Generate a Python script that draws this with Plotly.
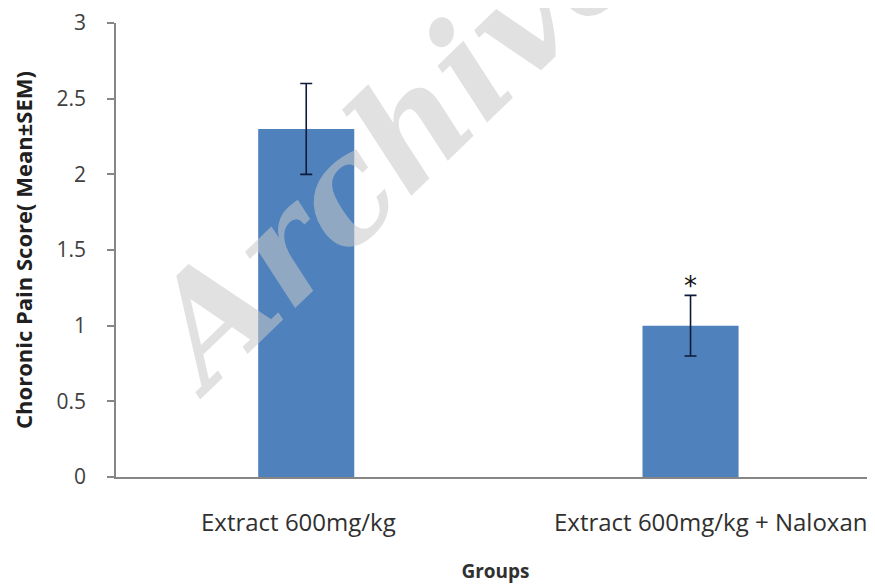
import plotly.graph_objects as go

categories = ["Extract 600mg/kg", "Extract 600mg/kg + Naloxan"]
means = [2.3, 1.0]
sem = [0.3, 0.2]
y_ticks = [0, 0.5, 1, 1.5, 2, 2.5, 3]
y_tick_labels = ["0", "0.5", "1", "1.5", "2", "2.5", "3"]
significance = ["", "*"]

fig = go.Figure()
fig.add_trace(go.Bar(
    x=categories, y=means, width=0.25,
    marker=dict(color="#4f81bd", line=dict(width=0)),
    error_y=dict(type="data", array=sem, visible=True, color="#0d1a3a",
                 thickness=1.6, width=6),
    showlegend=False,
))

for c, m, s, t in zip(categories, means, sem, significance):
    if t:
        fig.add_annotation(x=c, y=m + s, text=t, showarrow=False,
                           yanchor="bottom", yshift=-8,
                           font=dict(family="DejaVu Sans", size=26, color="#111111"))

# category labels (Excel-like placement)
label_shift = [-8, 20]
for c, dx in zip(categories, label_shift):
    fig.add_annotation(x=c, y=0, text=c, showarrow=False, xanchor="center",
                       yanchor="middle", yshift=-44, xshift=dx,
                       font=dict(family="Open Sans", size=24, color="#303030"))

# watermark
fig.add_annotation(xref="paper", yref="paper", x=0.36, y=0.73,
                   text="<b><i>Archive</i></b>", showarrow=False, textangle=-44,
                   xanchor="center", yanchor="middle",
                   font=dict(family="DejaVu Serif", size=145,
                             color="rgba(200,200,200,0.55)"))

fig.update_layout(
    width=867, height=577,
    margin=dict(l=108, r=0, t=12, b=108),
    paper_bgcolor="white", plot_bgcolor="white",
    font=dict(family="Open Sans", color="#404040"),
    xaxis=dict(
        type="category", range=[-0.495, 1.48],
        showline=True, linecolor="#868686", linewidth=1.5,
        ticks="", showgrid=False, zeroline=False,
        showticklabels=False,
        title=dict(text="<b>Groups</b>", font=dict(size=19, color="#303030"), standoff=87),
    ),
    yaxis=dict(
        range=[0, 3], tickvals=y_ticks, ticktext=y_tick_labels,
        showline=True, linecolor="#868686", linewidth=1.5,
        ticks="outside", ticklen=7, tickcolor="#868686", tickwidth=1.5,
        showgrid=False, zeroline=False,
        tickfont=dict(size=21, color="#404040"),
        ticklabelstandoff=17, ticklabeloverflow="allow",
        title=dict(text="<b>Choronic Pain Score( Mean±SEM)</b>",
                   font=dict(size=22, color="#202020"), standoff=20),
    ),
)

fig.write_html("out.html")
